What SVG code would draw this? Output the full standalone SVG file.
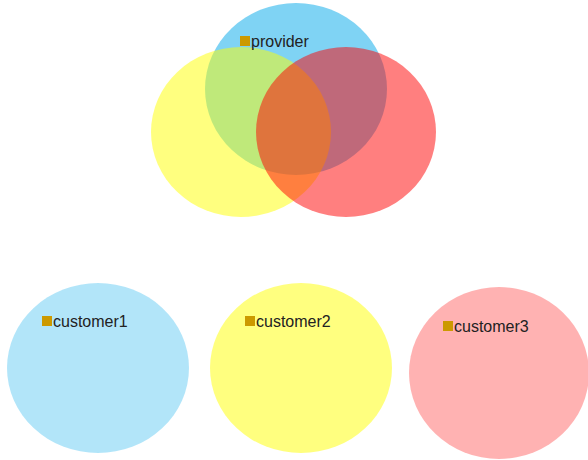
<svg xmlns="http://www.w3.org/2000/svg" width="588" height="460" viewBox="0 0 588 460">
<style>
.blue{fill:#00a8ea;fill-opacity:0.5}
.yellow{fill:#ffff00;fill-opacity:0.5}
.red{fill:#ff0000;fill-opacity:0.5}
.lblue{fill:#00a8ea;fill-opacity:0.3}
.lred{fill:#ff0000;fill-opacity:0.3}
.mark{fill:#cc9900}
.lbl{font-family:"Liberation Sans",Arial,sans-serif;font-size:16px;fill:#222222}
</style>
<rect width="588" height="460" fill="#ffffff"/>
<g id="provider">
<ellipse class="blue" cx="296" cy="89" rx="91" ry="86"/>
<ellipse class="yellow" cx="241" cy="132" rx="90" ry="85"/>
<ellipse class="red" cx="346" cy="132" rx="90" ry="85"/>
<rect class="mark" x="240" y="36" width="10" height="10"/>
<text class="lbl" x="251" y="47">provider</text>
</g>
<g id="customer1">
<ellipse class="lblue" cx="98" cy="368" rx="91" ry="85"/>
<rect class="mark" x="42" y="316" width="10" height="10"/>
<text class="lbl" x="53" y="327">customer1</text>
</g>
<g id="customer2">
<ellipse class="yellow" cx="301" cy="368" rx="91" ry="85"/>
<rect class="mark" x="245" y="316" width="10" height="10"/>
<text class="lbl" x="256" y="327">customer2</text>
</g>
<g id="customer3">
<ellipse class="lred" cx="499" cy="373" rx="90" ry="86"/>
<rect class="mark" x="443" y="321" width="10" height="10"/>
<text class="lbl" x="454" y="332">customer3</text>
</g>
</svg>
